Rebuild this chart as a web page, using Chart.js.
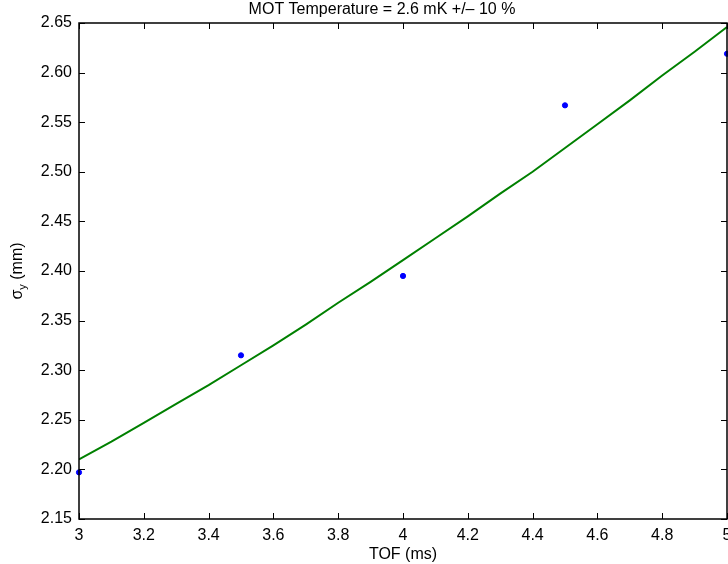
<!DOCTYPE html>
<html>
<head>
<meta charset="utf-8">
<script src="https://cdn.jsdelivr.net/npm/chart.js@4/dist/chart.umd.min.js"></script>
<style>
  html, body { margin: 0; padding: 0; background: #fff; }
  #wrap { width: 728px; height: 564px; }
</style>
</head>
<body>
<div id="wrap"><canvas id="c" width="728" height="564"></canvas></div>
<script>
// measured cloud size vs time of flight
const tofMeasured = [3, 3.5, 4, 4.5, 5];
const sigmaMeasured = [2.197, 2.315, 2.395, 2.567, 2.619];

// fitted curve
const tofFit = [3, 3.1, 3.2, 3.3, 3.4, 3.5, 3.6, 3.7, 3.8, 3.9, 4,
                4.1, 4.2, 4.3, 4.4, 4.5, 4.6, 4.7, 4.8, 4.9, 5];
const sigmaFit = [2.210, 2.228, 2.247, 2.266, 2.285, 2.305, 2.325, 2.346, 2.368, 2.389, 2.411,
                  2.433, 2.455, 2.478, 2.500, 2.524, 2.548, 2.572, 2.597, 2.621, 2.646];

// tick labels
const xTicks = [3, 3.2, 3.4, 3.6, 3.8, 4, 4.2, 4.4, 4.6, 4.8, 5];
const yTicks = [2.15, 2.20, 2.25, 2.30, 2.35, 2.40, 2.45, 2.50, 2.55, 2.60, 2.65];

const TITLE = 'MOT Temperature = 2.6 mK +/\u2013 10 %';
const FONT = '"Liberation Sans", Arial, Helvetica, sans-serif';

// box, inward tick marks, title and y label with subscript
const frame = {
  id: 'frame',
  afterDraw(chart) {
    const { ctx, chartArea: a, scales } = chart;
    const len = 6;
    ctx.save();
    ctx.strokeStyle = '#000';
    ctx.lineWidth = 1;
    ctx.beginPath();
    xTicks.forEach(v => {
      const x = Math.round(scales.x.getPixelForValue(v)) + 0.5;
      ctx.moveTo(x, a.bottom); ctx.lineTo(x, a.bottom - len);
      ctx.moveTo(x, a.top); ctx.lineTo(x, a.top + len);
    });
    yTicks.forEach(v => {
      const y = Math.round(scales.y.getPixelForValue(v)) + 0.5;
      ctx.moveTo(a.left, y); ctx.lineTo(a.left + len, y);
      ctx.moveTo(a.right, y); ctx.lineTo(a.right - len, y);
    });
    ctx.stroke();
    ctx.lineWidth = 1.5;
    ctx.strokeRect(a.left, a.top, a.right - a.left, a.bottom - a.top);

    ctx.fillStyle = '#000';
    ctx.textBaseline = 'alphabetic';
    ctx.textAlign = 'center';
    ctx.font = '16px ' + FONT;
    ctx.fillText(TITLE, 382, 14);

    // y axis title: sigma_y (mm)
    ctx.textAlign = 'left';
    ctx.translate(22, (a.top + a.bottom) / 2);
    ctx.rotate(-Math.PI / 2);
    const w1 = ctx.measureText('\u03c3').width;
    ctx.font = '11px ' + FONT;
    const w2 = ctx.measureText('y').width;
    ctx.font = '16px ' + FONT;
    const w3 = ctx.measureText(' (mm)').width;
    const x0 = -(w1 + w2 + w3) / 2;
    ctx.fillText('\u03c3', x0, 0);
    ctx.font = '11px ' + FONT;
    ctx.fillText('y', x0 + w1, 4);
    ctx.font = '16px ' + FONT;
    ctx.fillText(' (mm)', x0 + w1 + w2, 0);
    ctx.restore();
  }
};

new Chart(document.getElementById('c'), {
  type: 'scatter',
  data: {
    datasets: [
      {
        type: 'line',
        label: 'fit',
        data: tofFit.map((x, i) => ({ x, y: sigmaFit[i] })),
        borderColor: '#008000',
        borderWidth: 2,
        pointRadius: 0,
        tension: 0,
        fill: false,
      },
      {
        label: 'data',
        data: tofMeasured.map((x, i) => ({ x, y: sigmaMeasured[i] })),
        backgroundColor: '#0000ff',
        borderColor: '#0000ff',
        pointRadius: 2.6,
        clip: false,
      },
    ],
  },
  options: {
    responsive: false,
    animation: false,
    layout: { autoPadding: false, padding: { left: 0, right: 1, top: 23, bottom: 0 } },
    plugins: {
      legend: { display: false },
      tooltip: { enabled: false },
      title: { display: false },
    },
    scales: {
      x: {
        type: 'linear',
        min: 3,
        max: 5,
        afterBuildTicks: s => { s.ticks = xTicks.map(v => ({ value: v })); },
        afterFit: s => { s.height = 45; s.paddingLeft = 0; s.paddingRight = 0; },
        grid: { display: false, drawTicks: false },
        border: { display: false },
        ticks: {
          color: '#000',
          padding: 7,
          maxRotation: 0,
          font: { family: FONT, size: 16 },
          callback: v => String(+v.toFixed(1)),
        },
        title: {
          display: true,
          text: 'TOF (ms)',
          color: '#000',
          font: { family: FONT, size: 16 },
          padding: { top: 0, bottom: 0 },
        },
      },
      y: {
        type: 'linear',
        min: 2.15,
        max: 2.65,
        afterBuildTicks: s => { s.ticks = yTicks.map(v => ({ value: v })); },
        afterFit: s => { s.width = 79; s.paddingTop = 0; s.paddingBottom = 0; },
        grid: { display: false, drawTicks: false },
        border: { display: false },
        ticks: {
          color: '#000',
          padding: 7,
          font: { family: FONT, size: 16 },
          callback: v => v.toFixed(2),
        },
      },
    },
  },
  plugins: [frame],
});
</script>
</body>
</html>
